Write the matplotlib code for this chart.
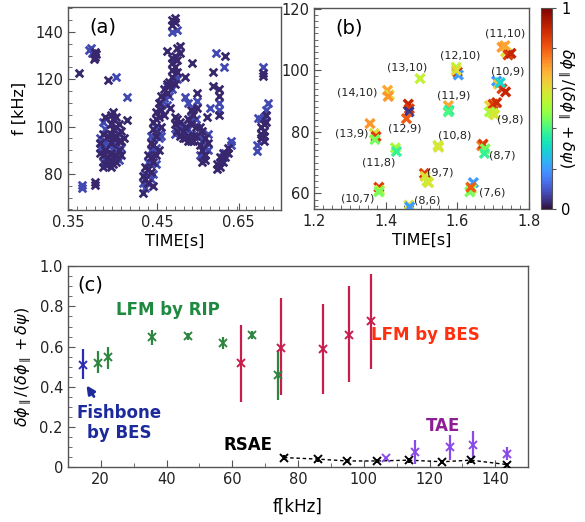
import numpy as np
import matplotlib.pyplot as plt
from matplotlib.ticker import MultipleLocator
from matplotlib.colors import Normalize

# ---- panel (a): frequency vs time, low-ratio modes ----
a_dark_t = [0.362, 0.380, 0.381, 0.380, 0.381, 0.382, 0.379, 0.395, 0.416,
            0.386, 0.386, 0.389, 0.389, 0.389, 0.392, 0.392, 0.392, 0.395, 0.395,
            0.398, 0.398, 0.398, 0.398, 0.398, 0.398, 0.398,
            0.401, 0.401, 0.401, 0.401, 0.401, 0.401,
            0.404, 0.404, 0.404, 0.404, 0.404, 0.407, 0.407, 0.407,
            0.410, 0.410, 0.410, 0.413,
            0.434, 0.434, 0.437, 0.437, 0.440, 0.440, 0.440, 0.443, 0.443, 0.443,
            0.446, 0.446, 0.446, 0.446, 0.446, 0.449, 0.449, 0.449, 0.449,
            0.452, 0.452, 0.452, 0.455, 0.455, 0.455, 0.458, 0.458,
            0.461, 0.461, 0.461, 0.464, 0.464, 0.465,
            0.467, 0.467, 0.467, 0.467, 0.467, 0.467, 0.470, 0.470, 0.470, 0.470, 0.470,
            0.473, 0.473, 0.473, 0.476, 0.476,
            0.470, 0.470, 0.473, 0.473, 0.476, 0.476, 0.479, 0.479,
            0.482, 0.482, 0.482, 0.485, 0.485, 0.485, 0.488, 0.488, 0.488, 0.489,
            0.491, 0.491, 0.491, 0.494, 0.494, 0.495, 0.495,
            0.498, 0.498, 0.501, 0.501, 0.501, 0.504, 0.504, 0.504, 0.506, 0.507,
            0.513, 0.513, 0.520, 0.520, 0.520, 0.527,
            0.518, 0.518, 0.521, 0.521, 0.524, 0.524, 0.527, 0.530, 0.530,
            0.567, 0.567, 0.567, 0.570, 0.570, 0.570, 0.570, 0.573, 0.573, 0.569, 0.569]
a_dark_f = [122.6, 76.5, 75.3, 131.5, 129.5, 130.5, 128.5, 119.5, 102.8,
            93, 89, 97, 88, 83, 104, 90, 84, 96, 87,
            105, 101, 97, 93, 89, 85, 83,
            106, 103, 99, 95, 87, 84,
            104, 100, 96, 88, 85, 101, 94, 90,
            98, 94, 88, 95,
            72, 79, 78, 83, 76, 82, 88, 81, 87, 93,
            75, 85, 92, 99, 102, 88, 96, 103, 106,
            90, 104, 110, 100, 107, 113, 105, 116,
            114, 118, 132, 117, 119, 108,
            121, 124, 127, 129, 143, 145, 118, 125, 130, 144, 146,
            123, 128, 133, 131, 134,
            104, 101, 103, 98, 102, 96, 98, 95,
            100, 95, 121, 103, 96, 94, 107, 101, 94, 127,
            105, 96, 94, 100, 96, 114, 108,
            100, 92, 98, 90, 85, 95, 88, 86, 104, 93,
            123, 117, 116, 113, 105, 129.6,
            82, 84, 83, 87, 85, 89, 87, 89, 91,
            100, 97, 95, 101, 98, 96, 94, 102, 105, 122.5, 121.5]
a_blue_t = [0.366, 0.366, 0.374, 0.376, 0.377, 0.404, 0.417,
            0.386, 0.386, 0.389, 0.389, 0.389, 0.392, 0.392, 0.392, 0.395, 0.395,
            0.401, 0.404, 0.407, 0.407, 0.410,
            0.434, 0.437, 0.437, 0.440, 0.440, 0.443, 0.443, 0.443, 0.443,
            0.446, 0.446, 0.446, 0.449, 0.449, 0.449, 0.452, 0.452, 0.452,
            0.455, 0.455, 0.458, 0.461, 0.461, 0.464, 0.467, 0.467, 0.470, 0.470,
            0.473, 0.473,
            0.473, 0.476, 0.479, 0.482, 0.482, 0.485, 0.485, 0.488, 0.488,
            0.491, 0.491, 0.494, 0.495,
            0.498, 0.498, 0.501, 0.501, 0.504, 0.507, 0.507, 0.510,
            0.517, 0.520, 0.520, 0.525,
            0.521, 0.524, 0.527, 0.533, 0.533,
            0.562, 0.562, 0.5635, 0.567, 0.570, 0.573, 0.569, 0.575]
a_blue_f = [75.5, 74, 132.5, 133, 131, 121, 112.5,
            95, 91, 102, 92, 85, 99, 94, 86, 92, 84,
            91, 92, 97, 86, 91,
            76, 74, 80, 79, 85, 78, 84, 90, 96,
            80, 89, 95, 84, 91, 100, 95, 97, 108,
            96, 110, 112, 109, 117, 113, 116, 140, 122, 97,
            120, 141,
            100, 99, 101, 97, 112.5, 99, 110, 104, 97,
            108, 102, 103, 111,
            96, 88, 94, 87, 91, 97, 90, 108,
            131, 110, 107, 125,
            85, 87, 89, 92, 94,
            92, 89.5, 103.6, 103, 104, 107, 125, 110]
a_dark_val = 0.03
a_blue_val = 0.075
a_tick_pos = [0.35, 0.45, 0.542]
a_tick_labels = ['0.35', '0.45', '0.65']

# ---- panel (b): mode clusters coloured by ratio ----
b_time = [1.725, 1.735, 1.742, 1.750, 1.733,
          1.597, 1.600, 1.603, 1.597,
          1.496,
          1.710, 1.715, 1.725, 1.735, 1.720,
          1.405, 1.410, 1.407,
          1.463, 1.466, 1.465, 1.458,
          1.575, 1.577, 1.575,
          1.690, 1.700, 1.710, 1.690, 1.700, 1.705,
          1.356, 1.368, 1.373, 1.370,
          1.546, 1.548,
          1.427, 1.430,
          1.668, 1.672, 1.678, 1.676,
          1.508, 1.510, 1.515, 1.520,
          1.381, 1.383, 1.381,
          1.645, 1.640, 1.635, 1.638,
          1.465, 1.467]
b_freq = [107.5, 106, 105, 105.5, 108,
          101, 99.5, 98.5, 100,
          97.3,
          96.5, 95.5, 94, 93, 96,
          93.5, 92, 91.5,
          89, 87.5, 86.5, 84.3,
          88.5, 87, 86.5,
          88.5, 89, 89.5, 86.5, 86, 85.5,
          82.7, 79.5, 78.5, 77.5,
          75.6, 75,
          74.8, 73.6,
          75.5, 76, 74.5, 73,
          66.5, 65.5, 64, 63.5,
          62, 61, 60.5,
          63.5, 61.5, 60.5, 62,
          56.2, 55.6]
b_ratio = [0.72, 0.60, 0.85, 0.90, 0.70,
           0.55, 0.88, 0.20, 0.60,
           0.55,
           0.20, 0.65, 0.85, 0.90, 0.30,
           0.70, 0.60, 0.72,
           0.90, 0.85, 0.05, 0.80,
           0.70, 0.35, 0.40,
           0.62, 0.85, 0.88, 0.50, 0.55, 0.58,
           0.72, 0.60, 0.85, 0.45,
           0.56, 0.58,
           0.50, 0.38,
           0.75, 0.85, 0.45, 0.38,
           0.85, 0.60, 0.55, 0.58,
           0.85, 0.55, 0.45,
           0.20, 0.50, 0.45, 0.80,
           0.60, 0.20]
b_labels = ['(11,10)', '(12,10)', '(13,10)', '(10,9)', '(14,10)', '(12,9)', '(11,9)',
            '(9,8)', '(13,9)', '(10,8)', '(11,8)', '(8,7)', '(9,7)', '(10,7)', '(7,6)', '(8,6)']
b_label_t = [1.734, 1.608, 1.460, 1.742, 1.320, 1.454, 1.590,
             1.748, 1.306, 1.594, 1.379, 1.725, 1.552, 1.323, 1.697, 1.516]
b_label_f = [111.9, 104.8, 101.0, 99.6, 92.8, 81.0, 91.8,
             84.0, 79.4, 78.8, 70.0, 72.3, 66.8, 58.4, 60.3, 57.7]

# ---- panel (c): ratio vs frequency ----
fish_f = [14.5]
fish_v = [0.51]
fish_lo = [0.07]
fish_hi = [0.08]
rip_f = [19.2, 22.3, 35.5, 46.6, 57.3, 65.9, 73.8]
rip_v = [0.52, 0.546, 0.65, 0.653, 0.62, 0.656, 0.457]
rip_lo = [0.05, 0.056, 0.04, 0.018, 0.03, 0.02, 0.124]
rip_hi = [0.06, 0.054, 0.035, 0.017, 0.03, 0.02, 0.128]
bes_f = [62.5, 74.8, 87.5, 95.6, 102.1]
bes_v = [0.52, 0.595, 0.59, 0.66, 0.726]
bes_lo = [0.195, 0.237, 0.227, 0.237, 0.236]
bes_hi = [0.19, 0.245, 0.224, 0.24, 0.234]
tae_f = [106.7, 115.6, 126.3, 133.3, 143.5]
tae_v = [0.045, 0.076, 0.098, 0.109, 0.068]
tae_lo = [0.0, 0.058, 0.06, 0.066, 0.033]
tae_hi = [0.0, 0.058, 0.061, 0.07, 0.032]
rsae_f = [75.7, 86.2, 95.0, 103.9, 113.8, 123.9, 132.5, 143.5]
rsae_v = [0.048, 0.04, 0.031, 0.031, 0.035, 0.027, 0.035, 0.013]
rsae_err = [0.012, 0.012, 0.01, 0.01, 0.012, 0.01, 0.012, 0.008]
c_ytick_labels = ['0', '0.2', '0.4', '0.6', '0.8', '1.0']

plt.rcParams['font.family'] = ['DejaVu Sans']
plt.rcParams['mathtext.fontset'] = 'dejavusans'
frame_col = '#555555'
ratio_label = r'$\delta\phi_\parallel/(\delta\phi_\parallel + \delta\psi)$'

cmap = plt.get_cmap('turbo')
norm = Normalize(0, 1)

fig = plt.figure(figsize=(5.85, 5.22), dpi=100)
ax_a = fig.add_axes([0.116, 0.598, 0.364, 0.389])
ax_b = fig.add_axes([0.537, 0.600, 0.367, 0.385])
cax = fig.add_axes([0.925, 0.600, 0.019, 0.385])
ax_c = fig.add_axes([0.116, 0.105, 0.787, 0.385])


def style_axes(ax):
    for s in ax.spines.values():
        s.set_color(frame_col)
        s.set_linewidth(1.0)
    ax.tick_params(which='both', direction='in', top=False, right=False,
                   color=frame_col, labelsize=10.5, labelcolor='#222222')
    ax.tick_params(which='major', length=5)
    ax.tick_params(which='minor', length=3)


# (a)
ax_a.scatter(a_dark_t, a_dark_f, marker='x', s=30, linewidths=2.0,
             color=cmap(norm(a_dark_val)), zorder=3)
ax_a.scatter(a_blue_t, a_blue_f, marker='x', s=30, linewidths=2.0,
             color=cmap(norm(a_blue_val)), zorder=2)
ax_a.set_xlim(0.35, 0.5893)
ax_a.set_ylim(64.8, 150.6)
ax_a.set_xticks(a_tick_pos, a_tick_labels)
ax_a.set_yticks([80, 100, 120, 140])
ax_a.xaxis.set_minor_locator(MultipleLocator(0.01))
ax_a.yaxis.set_minor_locator(MultipleLocator(5))
style_axes(ax_a)
ax_a.set_xlabel('TIME[s]', fontsize=11.5, labelpad=3)
ax_a.set_ylabel('f [kHz]', fontsize=11.5, labelpad=6)
ax_a.text(0.1, 0.9, '(a)', transform=ax_a.transAxes, fontsize=14, va='center')

# (b)
sc = ax_b.scatter(b_time, b_freq, c=b_ratio, cmap=cmap, norm=norm, marker='x',
                  s=42, linewidths=2.4, zorder=3)
for lab, t, f in zip(b_labels, b_label_t, b_label_f):
    ax_b.text(t, f, lab, fontsize=8, ha='center', va='center', color='#222222')
ax_b.set_xlim(1.2, 1.8)
ax_b.set_ylim(55, 120.3)
ax_b.set_xticks([1.2, 1.4, 1.6, 1.8])
ax_b.set_yticks([60, 80, 100, 120])
ax_b.xaxis.set_minor_locator(MultipleLocator(0.025))
ax_b.yaxis.set_minor_locator(MultipleLocator(2))
style_axes(ax_b)
ax_b.set_xlabel('TIME[s]', fontsize=11.5, labelpad=3)
ax_b.text(0.1, 0.9, '(b)', transform=ax_b.transAxes, fontsize=14, va='center')

cb = fig.colorbar(sc, cax=cax, ticks=[0, 0.2, 0.4, 0.6, 0.8, 1])
cb.set_ticklabels(['0', '', '', '', '', '1'])
cb.ax.tick_params(labelsize=10.5, length=3, color=frame_col)
cb.outline.set_edgecolor(frame_col)
cb.set_label(ratio_label, rotation=270, fontsize=11.5, labelpad=4)

# (c)
eb = dict(fmt='x', markersize=6, markeredgewidth=1.4, capsize=0, elinewidth=1.6, zorder=3)
ax_c.plot(rsae_f, rsae_v, linestyle=(0, (2.5, 2)), color='black', lw=1.0, zorder=2)
ax_c.errorbar(rsae_f, rsae_v, yerr=rsae_err, color='black', **eb)
ax_c.errorbar(fish_f, fish_v, yerr=[fish_lo, fish_hi], color='#2b2bb5', **eb)
ax_c.errorbar(rip_f, rip_v, yerr=[rip_lo, rip_hi], color='#2e8540', **eb)
ax_c.errorbar(bes_f, bes_v, yerr=[bes_lo, bes_hi], color='#c81e4e', **eb)
ax_c.errorbar(tae_f, tae_v, yerr=[tae_lo, tae_hi], color='#8a4ae8', **eb)

ax_c.text(40.4, 0.78, 'LFM by RIP', color='#1f8a3f', fontsize=12, fontweight='bold',
          ha='center', va='center')
ax_c.text(25.5, 0.22, 'Fishbone\nby BES', color='#1c2a9c', fontsize=12, fontweight='bold',
          ha='center', va='center', linespacing=1.1)
ax_c.text(64.8, 0.11, 'RSAE', color='black', fontsize=12, fontweight='bold',
          ha='center', va='center')
ax_c.text(118.6, 0.657, 'LFM by BES', color='#ff3010', fontsize=12, fontweight='bold',
          ha='center', va='center')
ax_c.text(124.2, 0.205, 'TAE', color='#8e1e96', fontsize=12, fontweight='bold',
          ha='center', va='center')
ax_c.annotate('', xy=(15.2, 0.418), xytext=(18.4, 0.34),
              arrowprops=dict(arrowstyle='-|>', color='#1c2a9c', lw=2, mutation_scale=12))
ax_c.text(16.7, 0.905, '(c)', fontsize=14, ha='center', va='center')

ax_c.set_xlim(10, 150)
ax_c.set_ylim(0, 1.0)
ax_c.set_xticks([20, 40, 60, 80, 100, 120, 140])
ax_c.set_yticks([0, 0.2, 0.4, 0.6, 0.8, 1.0], c_ytick_labels)
ax_c.xaxis.set_minor_locator(MultipleLocator(10))
ax_c.yaxis.set_minor_locator(MultipleLocator(0.05))
style_axes(ax_c)
ax_c.set_xlabel('f[kHz]', fontsize=12, labelpad=8)
ax_c.set_ylabel(ratio_label, fontsize=11.5, labelpad=5)

fig.savefig('out.png', dpi=100)
